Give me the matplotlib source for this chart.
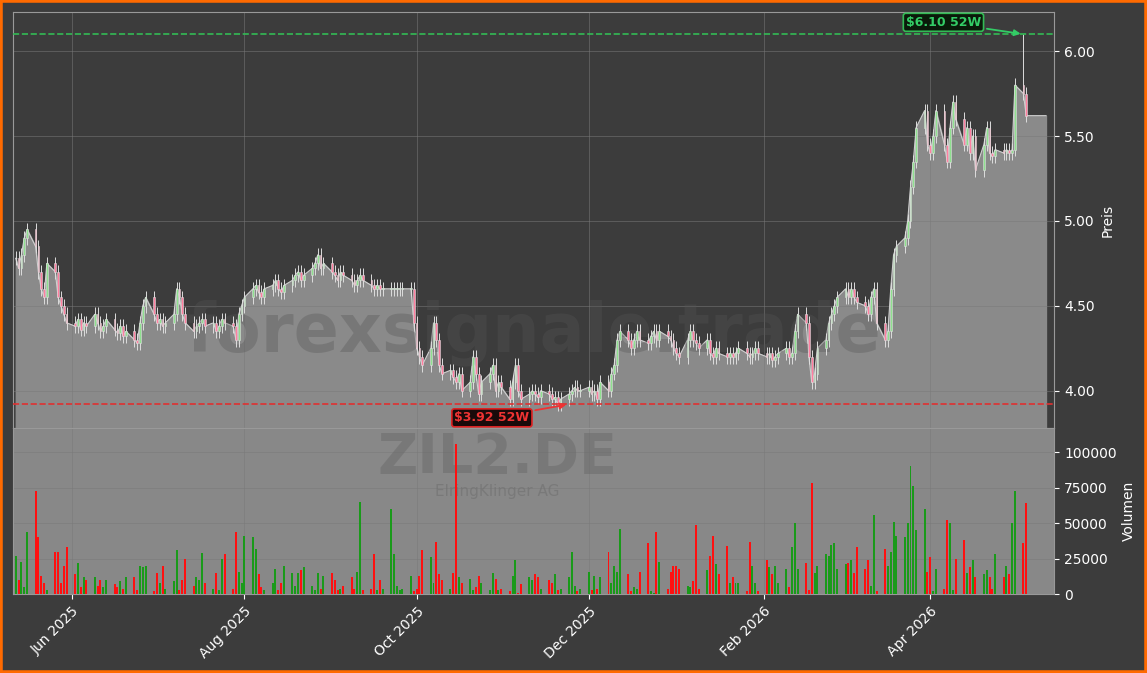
import matplotlib
matplotlib.use("Agg")
import matplotlib.pyplot as plt
import matplotlib.dates as mdates
import pandas as pd
import numpy as np

closes = [4.78,4.72,4.80,4.90,4.95,4.85,4.70,4.60,4.55,4.75,4.70,4.55,4.50,4.45,
 4.40,4.38,4.42,4.36,4.40,4.38,4.45,4.40,4.35,4.38,4.42,4.36,4.34,4.38,4.32,4.35,4.30,4.28,4.40,4.50,4.55,
 4.45,4.40,4.42,4.38,4.40,4.45,4.60,4.55,4.45,4.40,4.35,4.38,4.40,4.42,4.38,4.40,4.35,4.38,4.42,4.40,4.38,4.30,4.45,
 4.50,4.55,4.60,4.62,4.58,4.55,4.60,4.62,4.65,4.60,4.58,4.62,4.65,4.68,4.70,4.65,4.68,4.72,4.75,4.80,4.72,
 4.75,4.70,4.68,4.65,4.70,4.68,4.65,4.62,4.65,4.68,4.65,4.62,4.60,4.62,4.60,4.60,4.60,4.60,4.60,4.60,4.60,4.60,
 4.40,4.25,4.20,4.15,4.25,4.40,4.30,4.15,4.10,4.12,4.08,4.05,4.10,4.00,4.05,4.20,4.10,3.98,4.05,4.10,4.15,4.00,4.05,
 4.02,3.95,4.05,4.15,4.00,3.95,3.98,4.00,3.98,3.96,4.00,3.98,3.95,3.96,3.92,3.95,3.98,4.00,4.02,4.00,
 4.00,4.02,3.98,4.00,3.95,4.05,4.00,4.10,4.15,4.30,4.35,4.30,4.25,4.30,4.35,4.30,4.28,4.32,4.35,4.30,
 4.35,4.32,4.30,4.25,4.22,4.20,4.30,4.35,4.30,4.28,4.25,4.30,4.22,4.20,4.25,4.22,4.20,4.22,4.20,4.22,4.25,
 4.22,4.20,4.22,4.25,4.22,4.20,4.22,4.18,4.20,4.22,4.25,4.20,4.22,4.35,4.45,4.40,4.20,4.05,4.10,4.25,
 4.30,4.40,4.45,4.50,4.55,4.60,4.55,4.60,4.55,4.52,4.50,4.45,4.55,4.60,4.40,4.30,4.35,4.60,4.80,4.85,4.90,5.00,
 5.20,5.35,5.55,5.65,5.45,5.40,5.50,5.65,5.45,5.35,5.55,5.70,5.60,5.45,5.55,5.40,5.50,5.30,5.45,5.55,5.40,
 5.38,5.42,5.40,5.42,5.40,5.42,5.80,5.75,5.62]

volumes = [27000,10000,23000,5000,44000,73000,40000,13000,8000,3000,30000,30000,8000,20000,
 33000,14000,22000,5000,12000,10000,12000,6000,10000,5000,10000,7000,5000,9000,4000,12000,12000,3000,20000,19000,20000,
 2000,15000,8000,20000,4000,9000,31000,3000,10000,25000,6000,12000,10000,29000,8000,4000,15000,3000,25000,28000,4000,44000,
 16000,8000,41000,40000,32000,14000,5000,3000,8000,18000,3000,8000,20000,15000,6000,15000,17000,19000,6000,3000,15000,4000,13000,
 15000,10000,3000,4000,6000,12000,4000,16000,65000,3000,4000,28000,3000,10000,4000,60000,28000,6000,3000,4000,13000,2000,
 4000,13000,31000,26000,8000,37000,14000,10000,4000,15000,106000,12000,8000,11000,3000,5000,13000,8000,3000,15000,11000,3000,4000,
 2000,13000,24000,1000,7000,12000,10000,14000,12000,4000,10000,8000,14000,3000,4000,12000,30000,6000,2000,4000,
 16000,3000,13000,4000,12000,30000,8000,20000,16000,46000,14000,2000,5000,4000,16000,36000,2000,1000,44000,23000,
 4000,16000,20000,20000,18000,6000,5000,9000,49000,4000,17000,27000,41000,21000,14000,34000,8000,12000,8000,8000,2000,
 37000,20000,8000,2000,24000,19000,14000,20000,8000,18000,5000,33000,50000,18000,22000,3000,78000,15000,20000,28000,
 27000,35000,36000,18000,21000,22000,24000,15000,33000,18000,24000,6000,56000,2000,32000,20000,30000,51000,41000,40000,50000,90000,
 76000,45000,60000,16000,26000,2000,18000,4000,52000,50000,3000,25000,38000,15000,19000,24000,12000,14000,17000,12000,4000,
 28000,12000,20000,14000,50000,73000,36000,64000]

high_52w = 6.10
low_52w = 3.92

dates = pd.bdate_range("2025-05-12", periods=len(closes))
closes = np.array(closes)
opens = np.concatenate([[closes[0]], closes[:-1]])
highs = np.maximum(opens, closes) + 0.04
lows = np.minimum(opens, closes) - 0.04
hi_idx = len(closes) - 2
highs[hi_idx] = high_52w

fig = plt.figure(figsize=(11.47, 6.73), dpi=100, facecolor="#3c3c3c")
fig.patches.append(matplotlib.patches.Rectangle((0, 0), 1, 1, transform=fig.transFigure,
                   fill=False, edgecolor="#ff6a00", linewidth=4, zorder=10))
axp = fig.add_axes([0.0113, 0.364, 0.908, 0.618])
axv = fig.add_axes([0.0113, 0.117, 0.908, 0.247], sharex=axp)

for ax in (axp, axv):
    ax.set_facecolor("#3c3c3c")
    for s in ax.spines.values():
        s.set_color("#999999")
    ax.grid(True, color="#7a7a7a", linewidth=0.6, alpha=0.6)
    ax.yaxis.tick_right()
    ax.yaxis.set_label_position("right")
    ax.tick_params(colors="white", labelsize=10)
axv.set_facecolor("#888888")

ext_dates = list(dates) + [dates[-1] + pd.Timedelta(days=7)]
ext_close = list(closes) + [closes[-1]]
axp.fill_between(ext_dates, 3.5, ext_close, color="#8a8a8a", zorder=1)
axp.plot(ext_dates, ext_close, color="#cfcfcf", linewidth=0.8, zorder=2)

dnum = mdates.date2num(dates)
w = 0.6
for d, o, h, l, c in zip(dnum, opens, highs, lows, closes):
    up = c >= o
    col = "#8fe08f" if up else "#ff7fa0"
    axp.vlines(d, l, h, color="#dddddd", linewidth=0.7, zorder=3)
    axp.bar(d, max(abs(c - o), 0.004), bottom=min(o, c), width=w, color=col,
            edgecolor="#e0e0e0", linewidth=0.4, zorder=4)

axp.axhline(high_52w, color="#33bb55", linestyle="--", linewidth=1.2, zorder=5)
axp.axhline(low_52w, color="#e03030", linestyle="--", linewidth=1.2, zorder=5)
axp.annotate(f"${high_52w:.2f} 52W", xy=(dnum[hi_idx], high_52w),
             xytext=(dnum[hi_idx] - 15, 6.17), color="#33cc66", fontsize=9, fontweight="bold",
             ha="right", va="center",
             bbox=dict(boxstyle="round,pad=0.2", fc="#0a1a0a", ec="#33bb55", lw=1.2),
             arrowprops=dict(arrowstyle="-|>", color="#33cc66", lw=1.3), zorder=6)
lo_idx = 140
axp.annotate(f"${low_52w:.2f} 52W", xy=(dnum[lo_idx], low_52w),
             xytext=(dnum[lo_idx] - 14, 3.84), color="#ee3333", fontsize=9, fontweight="bold",
             ha="right", va="center",
             bbox=dict(boxstyle="round,pad=0.2", fc="#1a0a0a", ec="#dd2222", lw=1.2),
             arrowprops=dict(arrowstyle="-|>", color="#ee3333", lw=1.3), zorder=6)

axp.text(0.5, 0.23, "forexsignale.trade", transform=axp.transAxes, fontsize=48,
         fontweight="bold", color="#555555", alpha=0.35, ha="center", va="center", zorder=2.5)
axv.text(0.465, 0.82, "ZIL2.DE", transform=axv.transAxes, fontsize=40,
         fontweight="bold", color="#6a6a6a", alpha=0.5, ha="center", va="center")
axv.text(0.465, 0.62, "ElringKlinger AG", transform=axv.transAxes, fontsize=11,
         color="#707070", alpha=0.6, ha="center", va="center")

axp.set_ylim(3.78, 6.23)
axp.set_yticks([4.0, 4.5, 5.0, 5.5, 6.0])
axp.set_yticklabels(["4.00", "4.50", "5.00", "5.50", "6.00"])
axp.set_ylabel("Preis", color="white")
plt.setp(axp.get_xticklabels(), visible=False)

vcols = ["#1a9a1a" if c >= o else "#ff1010" for o, c in zip(opens, closes)]
axv.bar(dnum, volumes, width=0.7, color=vcols, zorder=3)
axv.set_ylim(0, 117000)
axv.set_yticks([0, 25000, 50000, 75000, 100000])
axv.set_yticklabels(["0", "25000", "50000", "75000", "100000"])
axv.set_ylabel("Volumen", color="white")

axv.set_xlim(mdates.date2num(pd.Timestamp("2025-05-11")), mdates.date2num(pd.Timestamp("2026-05-15")))
axv.xaxis.set_major_locator(mdates.MonthLocator(bymonth=[2, 4, 6, 8, 10, 12]))
axv.xaxis.set_major_formatter(mdates.DateFormatter("%b %Y"))
plt.setp(axv.get_xticklabels(), rotation=45, ha="right", rotation_mode="anchor")

fig.savefig("out.png", dpi=100, facecolor=fig.get_facecolor())
